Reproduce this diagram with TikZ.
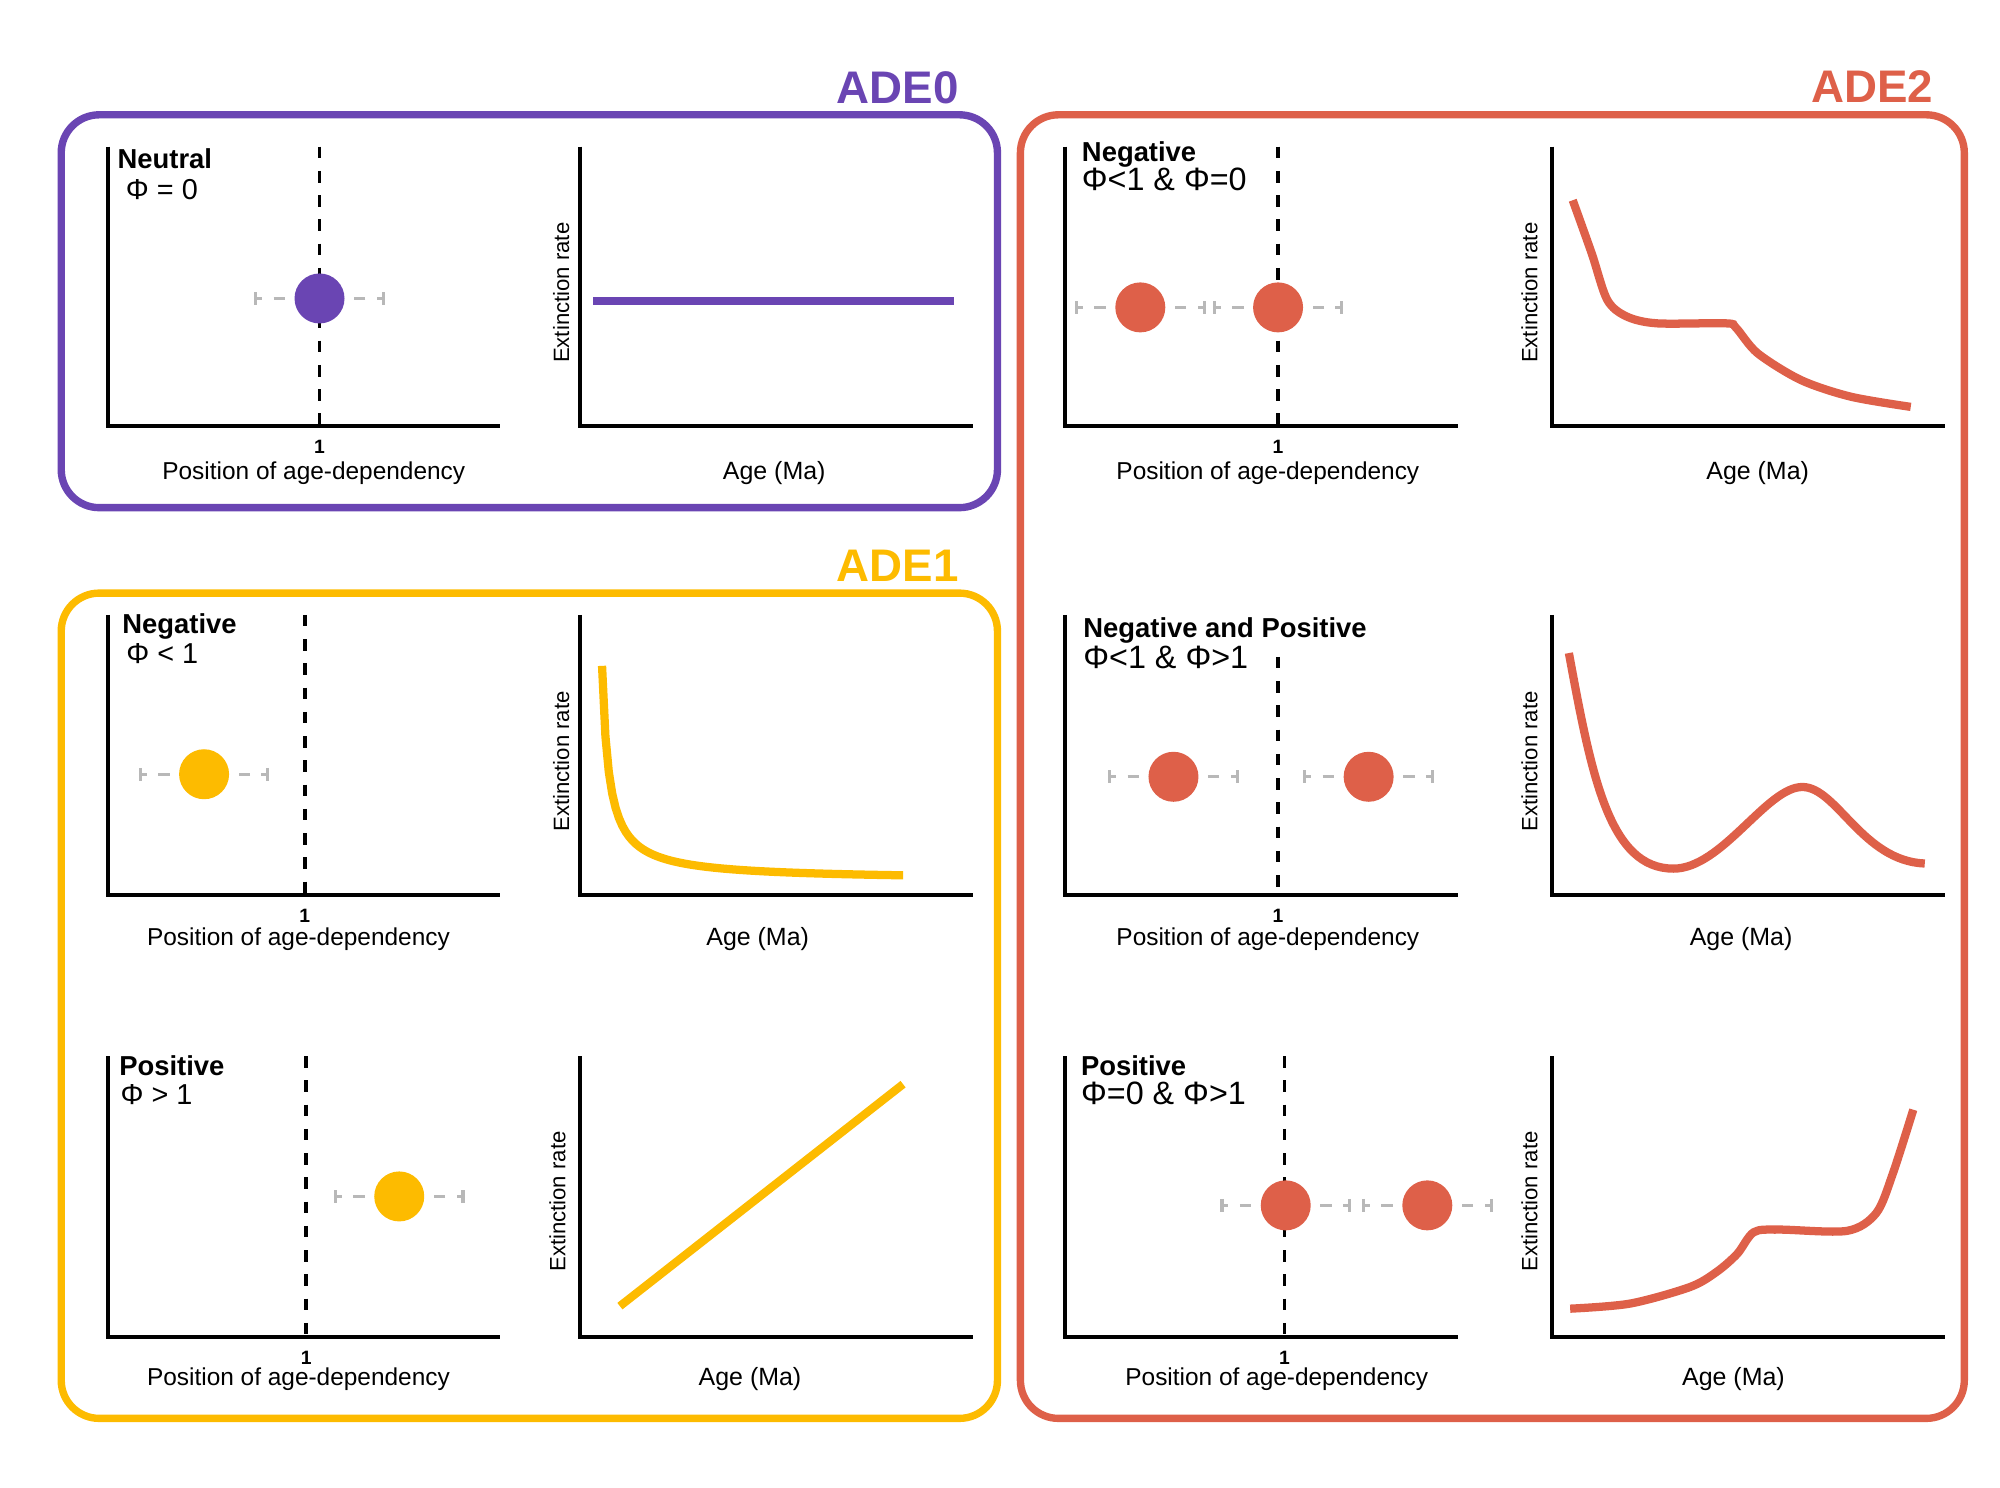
\documentclass[tikz,border=0pt]{standalone}
\usepackage{fontspec}
\setmainfont{Liberation Sans}
\usetikzlibrary{positioning}

\definecolor{adezero}{RGB}{106,69,179}
\definecolor{adeone}{RGB}{253,187,0}
\definecolor{adetwo}{RGB}{222,96,73}

\tikzset{
  groupbox/.style={rounded corners=0.38cm, line width=2.1pt},
  grouplabel/.style={anchor=base east, inner sep=0pt, font=\fontsize{13}{13}\selectfont\bfseries},
  paneltitle/.style={anchor=base west, inner sep=0pt, font=\fontsize{7.8}{9}\selectfont\bfseries},
  phicond/.style={anchor=base west, inner sep=0pt, font=\fontsize{8.2}{10}\selectfont},
  phipair/.style={phicond, font=\fontsize{9.2}{10}\selectfont},
  axisline/.style={line width=1.1pt},
  refline/.style={line width=1.1pt, dash pattern=on 3.3pt off 3.6pt},
  errbar/.style={draw=black!28, line width=0.9pt},
  estim/.style={circle, inner sep=0pt, minimum size=0.5cm},
  rate/.style={line width=2.35pt},
  tickone/.style={inner sep=0pt, font=\fontsize{5.5}{6}\selectfont\bfseries},
  poslabel/.style={inner sep=0pt, font=\fontsize{6.95}{9}\selectfont},
  agelabel/.style={inner sep=0pt, font=\fontsize{7.1}{9}\selectfont},
  extlabel/.style={inner sep=0pt, rotate=90, font=\fontsize{6.3}{8}\selectfont}
}

% grey error bars on both sides of an estimate
\newcommand{\errbars}[1]{%
  \draw[errbar] (#1.center) ++(-50,-5) -- ++(0,10) ++(0,-5) -- ++(5,0) ++(9,0) -- ++(9,0);
  \draw[errbar] (#1.center) ++(50,-5) -- ++(0,10) ++(0,-5) -- ++(-5,0) ++(-9,0) -- ++(-9,0);
}

\begin{document}
\begin{tikzpicture}[x=0.012755cm, y=-0.012755cm]
\useasboundingbox (0,0) rectangle (1568,1166);

% ---------------- ADE0 ----------------
\draw[groupbox, draw=adezero] (48,90) rectangle (782,398);
\node[grouplabel, text=adezero] (g0) at (752,81) {ADE0};

% Neutral
\draw[axisline] (85,115) |- (392,334);
\coordinate (r0a) at (250.5,115);
\coordinate (r0b) at (250.5,334);
\draw[refline] (r0a) -- (r0b);
\node[estim, fill=adezero] (e0) at (250.5,234) {};
\errbars{e0}
\node[paneltitle] (n0) at (91.7,132) {Neutral};
\node[phicond] (c0) at (98.2,156.3) {Φ = 0};
\node[tickone, below=3.8pt of r0b] (one0) {1};
\node[poslabel] (p0) at (246,371) {Position of age-dependency};

\draw[axisline] (455,115) |- (763,334);
\node[extlabel] (x0) at (440,229.5) {Extinction rate};
\draw[rate, adezero] (465,236) -- (748,236);
\node[agelabel] (a0) at (607,371) {Age (Ma)};

% ---------------- ADE1 ----------------
\draw[groupbox, draw=adeone] (48,465) rectangle (782,1112);
\node[grouplabel, text=adeone] (g1) at (752,456) {ADE1};

% Negative
\draw[axisline] (85,482) |- (392,702);
\coordinate (r1a) at (239,482);
\coordinate (r1b) at (239,702);
\draw[refline] (r1a) -- (r1b);
\node[estim, fill=adeone] (e1) at (160,607) {};
\errbars{e1}
\node[paneltitle] (n1) at (95.4,496.5) {Negative};
\node[phicond] (c1) at (98.5,520) {Φ < 1};
\node[tickone, below=3.8pt of r1b] (one1) {1};
\node[poslabel] (p1) at (234,736) {Position of age-dependency};

\draw[axisline] (455,482) |- (763,702);
\node[extlabel] (x1) at (440,597) {Extinction rate};
\draw[rate, adeone] plot[domain=472:708, samples=90] (\x, {690-907/(\x-466.6)});
\node[agelabel] (a1) at (594,736) {Age (Ma)};

% Positive
\draw[axisline] (85,828) |- (392,1048);
\coordinate (r2a) at (240,828);
\coordinate (r2b) at (240,1048);
\draw[refline] (r2a) -- (r2b);
\node[estim, fill=adeone] (e2) at (313,938) {};
\errbars{e2}
\node[paneltitle] (n2) at (93,843.5) {Positive};
\node[phicond] (c2) at (94,866) {Φ > 1};
\node[tickone, below=3.8pt of r2b] (one2) {1};
\node[poslabel] (p2) at (234,1081) {Position of age-dependency};

\draw[axisline] (455,828) |- (763,1048);
\node[extlabel] (x2) at (437,942) {Extinction rate};
\draw[rate, adeone] (486,1024) -- (708,850);
\node[agelabel] (a2) at (588,1081) {Age (Ma)};

% ---------------- ADE2 ----------------
\draw[groupbox, draw=adetwo] (800,90) rectangle (1540,1112);
\node[grouplabel, text=adetwo] (g2) at (1516,80) {ADE2};

% Negative
\draw[axisline] (835,115) |- (1143,334);
\coordinate (r3a) at (1002,115);
\coordinate (r3b) at (1002,334);
\draw[refline] (r3a) -- (r3b);
\node[estim, fill=adetwo] (e3) at (894,241) {};
\node[estim, fill=adetwo] (e4) at (1002,241) {};
\errbars{e3}
\errbars{e4}
\node[paneltitle] (n3) at (847.7,126.7) {Negative};
\node[phipair] (c3) at (847.6,149.7) {Φ<1 \& Φ=0};
\node[tickone, below=3.8pt of r3b] (one3) {1};
\node[poslabel] (p3) at (994,371) {Position of age-dependency};

\draw[axisline] (1217,115) |- (1525,334);
\node[extlabel] (x3) at (1199,229.5) {Extinction rate};
\draw[rate, adetwo] plot[smooth, tension=0.5] coordinates {(1233,157) (1248,199) (1260,235)
  (1275,248) (1299,253.5) (1353,253.5) (1361,257) (1378,277) (1412,298) (1451,311) (1498,319)};
\node[agelabel] (a3) at (1378,371) {Age (Ma)};

% Negative and Positive
\draw[axisline] (835,482) |- (1143,702);
\coordinate (r4a) at (1002,515);
\coordinate (r4b) at (1002,702);
\draw[refline] (r4a) -- (r4b);
\node[estim, fill=adetwo] (e5) at (920,609) {};
\node[estim, fill=adetwo] (e6) at (1073,609) {};
\errbars{e5}
\errbars{e6}
\node[paneltitle] (n4) at (848.8,499.7) {Negative and Positive};
\node[phipair] (c4) at (848.8,524) {Φ<1 \& Φ>1};
\node[tickone, below=3.8pt of r4b] (one4) {1};
\node[poslabel] (p4) at (994,736) {Position of age-dependency};

\draw[axisline] (1217,482) |- (1525,702);
\node[extlabel] (x4) at (1199,597) {Extinction rate};
\draw[rate, adetwo] (1230,512) .. controls (1248,610) and (1262,681) .. (1312,681)
  .. controls (1350,681) and (1385,617) .. (1413,617)
  .. controls (1440,617) and (1460,675) .. (1509,677);
\node[agelabel] (a4) at (1365,736) {Age (Ma)};

% Positive
\draw[axisline] (835,828) |- (1143,1048);
\coordinate (r5a) at (1007,828);
\coordinate (r5b) at (1007,1048);
\draw[refline] (r5a) -- (r5b);
\node[estim, fill=adetwo] (e7) at (1008,945) {};
\node[estim, fill=adetwo] (e8) at (1119,945) {};
\errbars{e7}
\errbars{e8}
\node[paneltitle] (n5) at (847,843.5) {Positive};
\node[phipair] (c5) at (847,866) {Φ=0 \& Φ>1};
\node[tickone, below=3.8pt of r5b] (one5) {1};
\node[poslabel] (p5) at (1001,1081) {Position of age-dependency};

\draw[axisline] (1217,828) |- (1525,1048);
\node[extlabel] (x5) at (1199,942) {Extinction rate};
\draw[rate, adetwo] plot[smooth, tension=0.5] coordinates {(1231,1026) (1278,1022) (1325,1009)
  (1346,997) (1362,983) (1375,966) (1395,964) (1448,965) (1471,951) (1484,920) (1500,870)};
\node[agelabel] (a5) at (1359,1081) {Age (Ma)};

\end{tikzpicture}
\end{document}
